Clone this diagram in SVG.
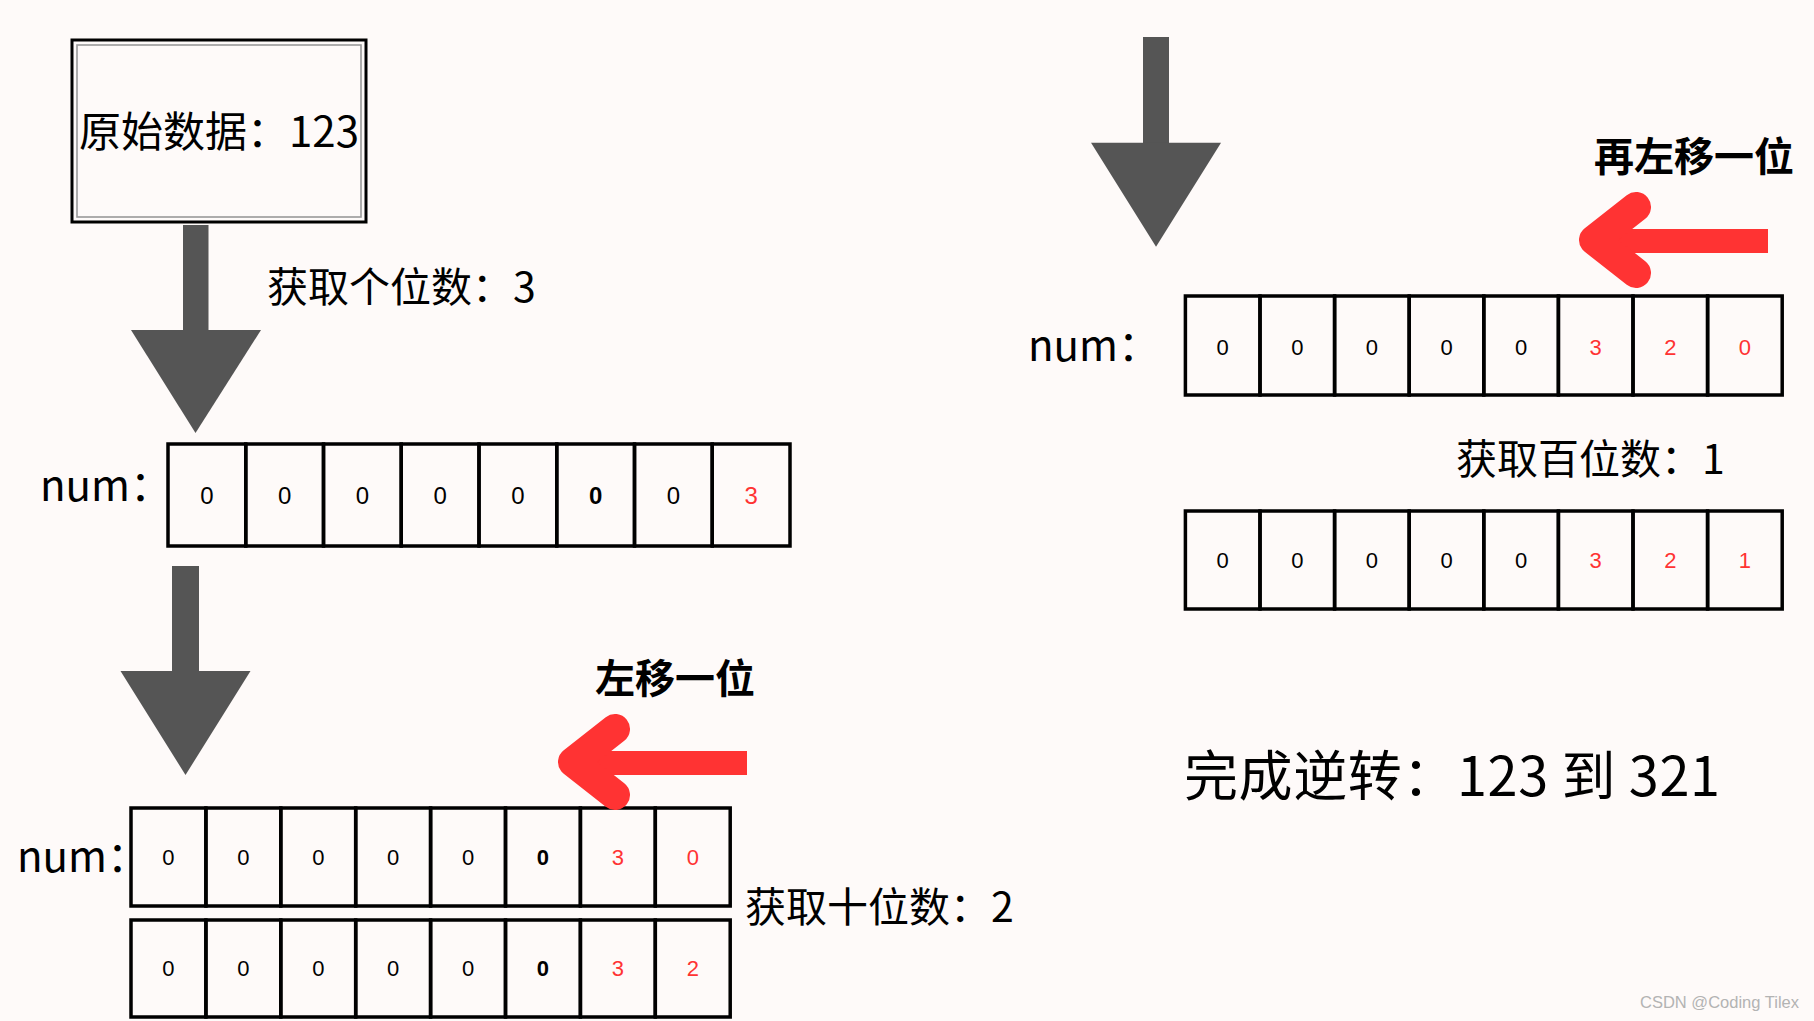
<svg xmlns="http://www.w3.org/2000/svg" xmlns:xlink="http://www.w3.org/1999/xlink" width="1814" height="1021" viewBox="0 0 1814 1021">
<style>
.bg{fill:#fefaf9}
.cell{fill:none;stroke:#000;stroke-width:3.5}
.d{font-family:"Liberation Sans",Arial,sans-serif;text-anchor:middle;fill:#000}
.d24{font-size:24px}
.d22{font-size:22px}
.r{fill:#ff3333}
.b{font-weight:bold}
.t{font-family:"Noto Sans CJK SC","Noto Sans",sans-serif;fill:#000}
.t41{font-size:41px}
.num{font-size:42px}
.bold40{font-size:40px;font-weight:bold}
.gray{fill:#555555}
.red{fill:#ff3333}
.redline{fill:none;stroke:#ff3333;stroke-width:30;stroke-linecap:round;stroke-linejoin:round}
</style>
<defs>
<g id="redArrow">
<rect class="red" x="20" y="-11" width="169" height="24"/>
<polyline class="redline" points="57,-33 15,0 57,33"/>
</g>
</defs>
<rect class="bg" x="0" y="0" width="1814" height="1021"/>

<g id="node-original">
<rect x="72" y="40" width="294" height="182" fill="#fefaf9" stroke="#000" stroke-width="3"/>
<rect x="77" y="45" width="284" height="172" fill="none" stroke="#999" stroke-width="1.6"/>
<text class="t" x="219" y="147" font-size="42" text-anchor="middle">原始数据：123</text>
</g>

<g id="label-ones"><text class="t t41" x="267" y="302">获取个位数：3</text></g>

<g id="array1">
<text class="t num" x="40" y="501">num：</text>
<rect class="cell" x="168" y="444" width="77.75" height="102"/>
<rect class="cell" x="245.75" y="444" width="77.75" height="102"/>
<rect class="cell" x="323.5" y="444" width="77.75" height="102"/>
<rect class="cell" x="401.25" y="444" width="77.75" height="102"/>
<rect class="cell" x="479" y="444" width="77.75" height="102"/>
<rect class="cell" x="556.75" y="444" width="77.75" height="102"/>
<rect class="cell" x="634.5" y="444" width="77.75" height="102"/>
<rect class="cell" x="712.25" y="444" width="77.75" height="102"/>
<g class="d d24">
<text x="206.9" y="503.5">0</text><text x="284.6" y="503.5">0</text><text x="362.4" y="503.5">0</text><text x="440.1" y="503.5">0</text><text x="517.9" y="503.5">0</text><text class="b" x="595.6" y="503.5">0</text><text x="673.4" y="503.5">0</text><text class="r" x="751.1" y="503.5">3</text>
</g>
</g>

<g id="label-shift1"><text class="t bold40" x="595" y="693">左移一位</text></g>

<g id="array2">
<text class="t num" x="17" y="872">num：</text>
<rect class="cell" x="131" y="808" width="74.9" height="98"/>
<rect class="cell" x="205.9" y="808" width="74.9" height="98"/>
<rect class="cell" x="280.8" y="808" width="74.9" height="98"/>
<rect class="cell" x="355.7" y="808" width="74.9" height="98"/>
<rect class="cell" x="430.6" y="808" width="74.9" height="98"/>
<rect class="cell" x="505.5" y="808" width="74.9" height="98"/>
<rect class="cell" x="580.4" y="808" width="74.9" height="98"/>
<rect class="cell" x="655.3" y="808" width="74.9" height="98"/>
<g class="d d22">
<text x="168.45" y="865">0</text><text x="243.35" y="865">0</text><text x="318.25" y="865">0</text><text x="393.15" y="865">0</text><text x="468.05" y="865">0</text><text class="b" x="542.95" y="865">0</text><text class="r" x="617.85" y="865">3</text><text class="r" x="692.75" y="865">0</text>
</g>
</g>

<g id="label-tens"><text class="t t41" x="745" y="922">获取十位数：2</text></g>

<g id="array3">
<rect class="cell" x="131" y="920" width="74.9" height="97"/>
<rect class="cell" x="205.9" y="920" width="74.9" height="97"/>
<rect class="cell" x="280.8" y="920" width="74.9" height="97"/>
<rect class="cell" x="355.7" y="920" width="74.9" height="97"/>
<rect class="cell" x="430.6" y="920" width="74.9" height="97"/>
<rect class="cell" x="505.5" y="920" width="74.9" height="97"/>
<rect class="cell" x="580.4" y="920" width="74.9" height="97"/>
<rect class="cell" x="655.3" y="920" width="74.9" height="97"/>
<g class="d d22">
<text x="168.45" y="976">0</text><text x="243.35" y="976">0</text><text x="318.25" y="976">0</text><text x="393.15" y="976">0</text><text x="468.05" y="976">0</text><text class="b" x="542.95" y="976">0</text><text class="r" x="617.85" y="976">3</text><text class="r" x="692.75" y="976">2</text>
</g>
</g>

<g id="label-shift2"><text class="t bold40" x="1594" y="171">再左移一位</text></g>

<g id="array4">
<text class="t num" x="1028" y="361">num：</text>
<rect class="cell" x="1185.4" y="296" width="74.6" height="99"/>
<rect class="cell" x="1260" y="296" width="74.6" height="99"/>
<rect class="cell" x="1334.6" y="296" width="74.6" height="99"/>
<rect class="cell" x="1409.2" y="296" width="74.6" height="99"/>
<rect class="cell" x="1483.8" y="296" width="74.6" height="99"/>
<rect class="cell" x="1558.4" y="296" width="74.6" height="99"/>
<rect class="cell" x="1633" y="296" width="74.6" height="99"/>
<rect class="cell" x="1707.6" y="296" width="74.6" height="99"/>
<g class="d d22">
<text x="1222.7" y="355">0</text><text x="1297.3" y="355">0</text><text x="1371.9" y="355">0</text><text x="1446.5" y="355">0</text><text x="1521.1" y="355">0</text><text class="r" x="1595.7" y="355">3</text><text class="r" x="1670.3" y="355">2</text><text class="r" x="1744.9" y="355">0</text>
</g>
</g>

<g id="label-hundreds"><text class="t t41" x="1456" y="474">获取百位数：1</text></g>

<g id="array5">
<rect class="cell" x="1185.4" y="511" width="74.6" height="98"/>
<rect class="cell" x="1260" y="511" width="74.6" height="98"/>
<rect class="cell" x="1334.6" y="511" width="74.6" height="98"/>
<rect class="cell" x="1409.2" y="511" width="74.6" height="98"/>
<rect class="cell" x="1483.8" y="511" width="74.6" height="98"/>
<rect class="cell" x="1558.4" y="511" width="74.6" height="98"/>
<rect class="cell" x="1633" y="511" width="74.6" height="98"/>
<rect class="cell" x="1707.6" y="511" width="74.6" height="98"/>
<g class="d d22">
<text x="1222.7" y="568">0</text><text x="1297.3" y="568">0</text><text x="1371.9" y="568">0</text><text x="1446.5" y="568">0</text><text x="1521.1" y="568">0</text><text class="r" x="1595.7" y="568">3</text><text class="r" x="1670.3" y="568">2</text><text class="r" x="1744.9" y="568">1</text>
</g>
</g>

<g id="label-result"><text class="t" x="1184" y="796" font-size="54" textLength="536" lengthAdjust="spacing">完成逆转：123 到 321</text></g>

<g id="connectors">
<g class="gray">
<rect x="183" y="225" width="25.5" height="106"/>
<polygon points="131,330 261,330 195.5,433"/>
<rect x="172" y="566" width="27" height="106"/>
<polygon points="120.5,671 250.5,671 185.5,775"/>
<rect x="1143" y="37" width="26" height="106"/>
<polygon points="1091,142.7 1221,142.7 1156,246.7"/>
</g>
<use xlink:href="#redArrow" href="#redArrow" transform="translate(558,762)"/>
<use xlink:href="#redArrow" href="#redArrow" transform="translate(1579,240)"/>
</g>

<text x="1640" y="1008" font-family="'Liberation Sans',Arial,sans-serif" font-size="17" fill="#b3b3b3" textLength="159" lengthAdjust="spacingAndGlyphs">CSDN @Coding Tilex</text>
</svg>
